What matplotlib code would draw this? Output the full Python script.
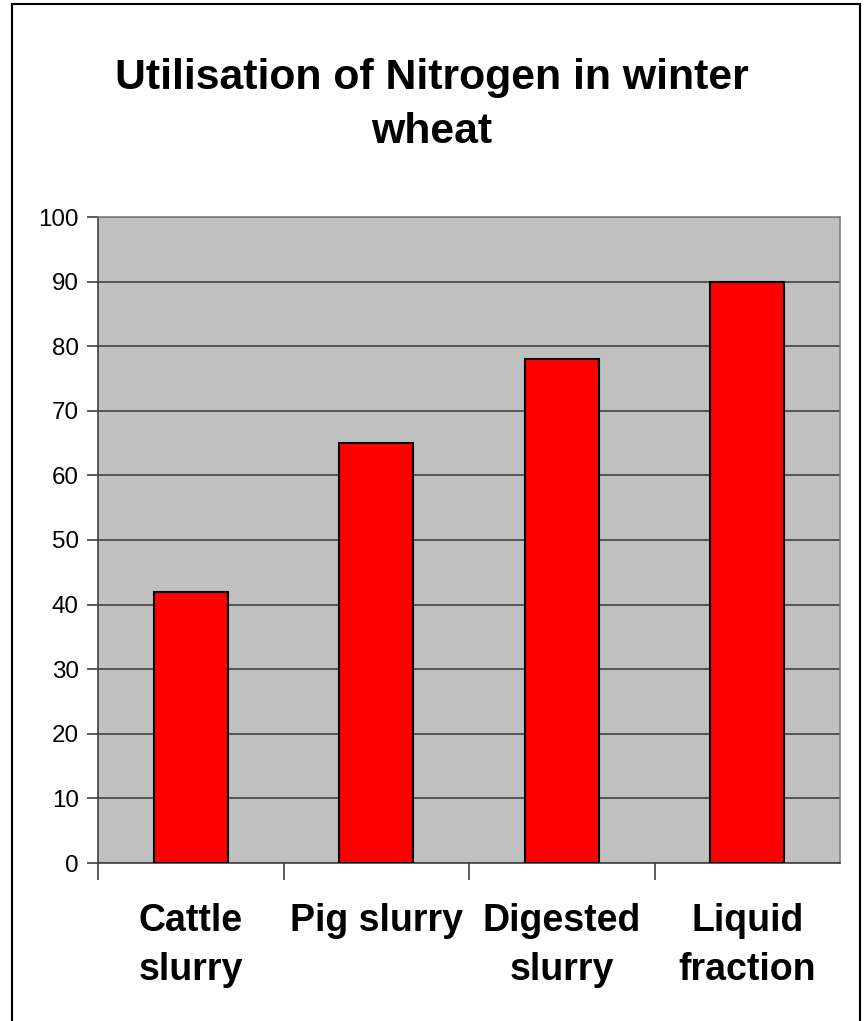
import matplotlib.pyplot as plt
from matplotlib.patches import Rectangle

plt.rcParams['font.family'] = ['Liberation Sans', 'DejaVu Sans']

categories = ["Cattle\nslurry", "Pig slurry", "Digested\nslurry", "Liquid\nfraction"]
values = [42, 65, 78, 90]
yticks = list(range(0, 101, 10))

fig = plt.figure(figsize=(8.64, 10.21), dpi=100, facecolor="white")
ax = fig.add_axes([98 / 864, 1 - 863 / 1021, 742 / 864, 646 / 1021])
ax.set_facecolor("#C0C0C0")

# outer chart border
fig.patches.append(Rectangle((12 / 864, -0.01), 848 / 864, 1.0 - 4 / 1021 + 0.01,
                             transform=fig.transFigure, fill=False,
                             edgecolor="black", linewidth=1.5))

pos = list(range(len(categories)))
ax.bar(pos, values, width=0.4, color="#FF0000", edgecolor="black", linewidth=1.5, zorder=3)

ax.set_xlim(-0.5, len(categories) - 0.5)
ax.set_ylim(0, 100)
ax.set_yticks(yticks)
ax.yaxis.grid(True, color="#404040", linewidth=1.2, zorder=1)
ax.set_axisbelow(True)
ax.tick_params(axis="y", labelsize=17.4, length=8, width=1.2, color="#404040", pad=6)

ax.set_xticks([p + 0.5 for p in pos[:-1]] + [-0.5], minor=False)
ax.set_xticklabels([])
ax.tick_params(axis="x", length=12, width=1.2, color="#404040")
ax.set_xticks(pos, minor=True)
ax.set_xticklabels(categories, minor=True, fontsize=27, fontweight="bold", linespacing=1.45)
ax.tick_params(axis="x", which="minor", length=0, pad=29)

for s in ["left", "bottom"]:
    ax.spines[s].set_color("#404040")
    ax.spines[s].set_linewidth(1.2)
for s in ["top", "right"]:
    ax.spines[s].set_color("#808080")
    ax.spines[s].set_linewidth(1.2)

fig.text(432 / 864, 1 - 105 / 1021, "Utilisation of Nitrogen in winter\nwheat",
         ha="center", va="center", fontsize=30.8, fontweight="bold", linespacing=1.45)

fig.savefig("out.png", dpi=100, facecolor="white")
